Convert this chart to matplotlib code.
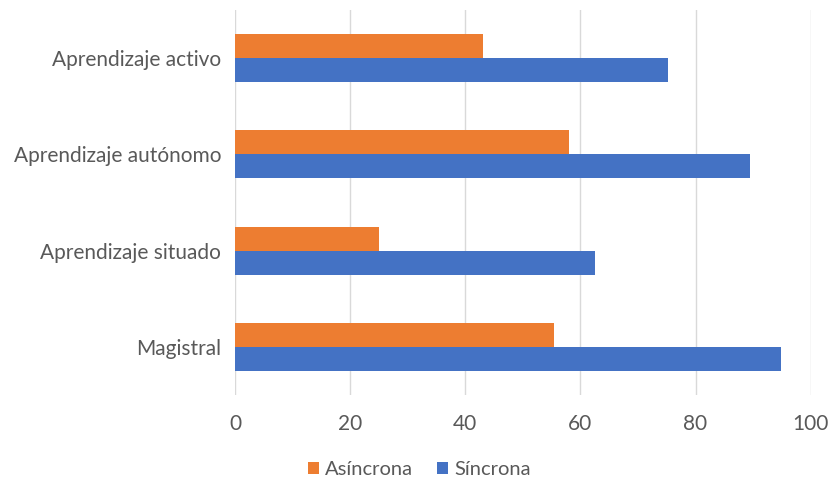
import numpy as np
import matplotlib.pyplot as plt

plt.rcParams['font.family'] = ['Lato', 'DejaVu Sans']

categorias = ['Magistral', 'Aprendizaje situado', 'Aprendizaje autónomo', 'Aprendizaje activo']
asincrona = [55.4, 25.0, 58.0, 43.0]
sincrona = [94.9, 62.6, 89.5, 75.2]
ticks_x = [0, 20, 40, 60, 80, 100]

naranja = '#ED7D31'
azul = '#4472C4'
gris_txt = '#595959'

fig = plt.figure(figsize=(8.34, 4.8), dpi=100)
ax = fig.add_axes([0.282, 0.177, 0.69, 0.802])

y = np.arange(len(categorias))
h = 0.25
ax.barh(y + h / 2, asincrona, height=h, color=naranja, label='Asíncrona', zorder=3)
ax.barh(y - h / 2, sincrona, height=h, color=azul, label='Síncrona', zorder=3)

ax.set_xlim(0, 100)
ax.set_ylim(-0.5, 3.5)
ax.set_xticks(ticks_x)
ax.set_yticks(y)
ax.set_yticklabels(categorias)
ax.grid(axis='x', color='#D9D9D9', linewidth=1, zorder=0)
for s in ax.spines.values():
    s.set_visible(False)
ax.tick_params(length=0, labelsize=15, labelcolor=gris_txt)
ax.tick_params(axis='x', pad=14)
ax.tick_params(axis='y', pad=10)

ax.legend(loc='upper center', bbox_to_anchor=(0.32, -0.125), ncol=2, frameon=False,
          fontsize=14.5, labelcolor=gris_txt, handlelength=0.55, handleheight=0.55,
          handletextpad=0.3, columnspacing=1.2)

fig.savefig('out.png', dpi=100)
